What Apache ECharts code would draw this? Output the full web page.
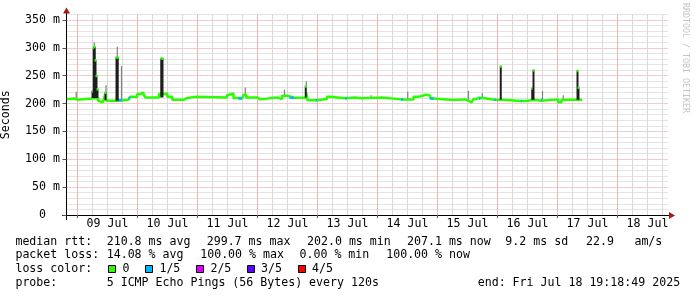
<!DOCTYPE html>
<html><head><meta charset="utf-8">
<script src="https://cdn.jsdelivr.net/npm/echarts@6/dist/echarts.min.js"></script>
<style>html,body{margin:0;padding:0;background:#fff}#c{width:697px;height:297px}</style>
</head><body><div id="c"></div>
<script>
// ---- data (time in hours since 08 Jul 00:00, values in ms) ----
const dayLabels = ['09 Jul','10 Jul','11 Jul','12 Jul','13 Jul','14 Jul','15 Jul','16 Jul','17 Jul','18 Jul'];
const dayNoon = [36,60,84,108,132,156,180,204,228,252];
const yTickValues = [0,50,100,150,200,250,300,350];
const yTickLabels = ['0  ','50 m','100 m','150 m','200 m','250 m','300 m','350 m'];

const medianT = [19.7,21.1,21.9,22.7,24.0,29.7,32.3,32.7,34.0,34.6,35.0,35.6,40.3,41.9,44.3,45.1,47.9,49.1,50.4,51.2,
  56.6,58.3,59.9,61.9,66.6,67.9,71.1,83.8,84.6,86.4,88.3,89.8,90.6,91.5,95.8,97.1,103.8,105.8,108.0,108.8,
  110.6,115.5,116.0,119.4,119.8,123.8,125.1,131.1,131.8,135.0,137.6,145.8,153.4,154.2,158.4,160.4,162.0,163.5,165.1,166.4,
  174.4,179.1,180.4,181.6,182.4,183.5,184.6,185.2,186.3,190.8,191.3,193.9,201.3,201.8,203.5,207.0,209.4,209.9,216.3,217.6,
  224.6,225.9];
const medianV = [208,205,209,207,209,210,205,202,203,208,216,205,206,207,210,212,217,220,216,211,
  217,218,212,207,210,212,211,215,218,210,209,212,216,211,207.5,211,208,214,210.5,210.5,
  211,220,206,206,208,212,209.5,209.5,211,209.5,211,207.5,207.5,207.5,212,214,216,214,209,206.5,
  207.5,205,202,204,208,210.5,209,210,207,207,207,204.5,204.5,204.5,207,205,207,207.5,202.5,207,
  207,207];
const medianLoss = [0,0,0,0,0,0,0,0,0,0,0,0,1,0,1,0,0,0,0,0,
  0,0,0,0,0,0,0,0,0,0,1,0,0,0,0,0,0,0,0,1,
  0,0,0,1,0,0,0,1,0,0,0,0,1,0,0,0,0,0,1,0,
  0,0,0,0,0,0,1,0,0,1,0,0,1,0,0,0,1,0,0,0,
  0,0];

const spikeT    = [30.0,30.5,30.9,31.2,31.6,32.0,35.2,39.6,40.1,57.5,58.0,115.3,193.3,205.9,206.4,224.0,224.4];
const spikeBase = [210,210,210,210,210,210,206,205,205,211,211,211,207,207,207,207,207];
const spikeTop  = [222,300,302,278,250,226,220,283,283,281,281,231,267,227,260,259,229];

const smokeT    = [23.5,30.7,35.4,39.9,41.6,91.1,106.8,115.5,141.4,156.1,180.4,185.9,210.0,218.3];
const smokeLow  = [209,290,212,283,207,214,213,231,211,208,205,210,207,207];
const smokeHigh = [221,310,233,302,267,229,225,240,215,221,223,219,222.6,215];

const lossColors = ['#26ff00','#00b8ff','#dd00ff','#5e00ff','#ff0000'];
const lossLabels = ['0','1/5','2/5','3/5','4/5'];

const legendRtt  = ['210.8 ms avg','299.7 ms max','202.0 ms min','207.1 ms now','9.2 ms sd','22.9','am/s'];
const legendLoss = ['14.08 % avg','100.00 % max','0.00 % min','100.00 % now'];
const probeText = '5 ICMP Echo Pings (56 Bytes) every 120s';
const endText = 'end: Fri Jul 18 19:18:49 2025';

// ---- build ----
const FONT = '11.6px "DejaVu Sans Mono", monospace';
const X_MIN = 19.6, X_MAX = 260.4, Y_MAX = 360;
const vGrid = [];
for (let t = 24; t < X_MAX; t += 6) vGrid.push([t, 0]);
const midnights = vGrid.map(d => d[0]).filter(t => t % 24 === 0);

const medianData = medianT.map((t, i) => [t, medianV[i]]);
const blueData = [];
medianT.forEach((t, i) => {
  if (medianLoss[i] === 1 && i + 1 < medianT.length) {
    blueData.push([t, medianV[i]], [medianT[i + 1], medianV[i]], [null, null]);
  }
});
const spikeData = spikeT.map((t, i) => [t, spikeBase[i], spikeTop[i]]);
const smokeData = smokeT.map((t, i) => [t, smokeLow[i], smokeHigh[i]]);

function rangeRender(width, color, capColor) {
  return function (params, api) {
    const t = api.value(0), lo = api.value(1), hi = api.value(2);
    const a = api.coord([t, lo]), b = api.coord([t, hi]);
    const children = [{ type: 'rect', shape: { x: a[0] - width / 2, y: b[1], width: width, height: a[1] - b[1] }, style: { fill: color } }];
    if (capColor) children.push({ type: 'rect', shape: { x: a[0] - width / 2, y: b[1] - 1, width: width, height: 2.5 }, style: { fill: capColor } });
    return { type: 'group', children: children };
  };
}
function vGridRender(params, api) {
  const t = api.value(0);
  const major = Math.round(t) % 24 === 0;
  const a = api.coord([t, 0]), b = api.coord([t, Y_MAX]);
  const x = Math.round(a[0] - 0.5);
  return { type: 'rect', shape: { x: x, y: b[1], width: 1, height: a[1] - b[1] },
    style: { fill: major ? '#efb4b4' : '#d9d9d9' } };
}

// legend graphics
const graphics = [];
function txt(x, y, s, extra) {
  graphics.push(Object.assign({ type: 'text', x: x, y: y, silent: true,
    style: { text: s, font: FONT, fill: '#000', textAlign: 'left', textVerticalAlign: 'middle', verticalAlign: 'middle' } }, extra || {}));
}
const rttX = [106.7, 206.7, 307, 407, 505.3, 586, 634.4];
txt(15.4, 241.7, 'median rtt:');
legendRtt.forEach((s, i) => txt(rttX[i], 241.7, s));
const lossX = [106.7, 200.2, 299.5, 386.2];
txt(15.4, 255.3, 'packet loss:');
legendLoss.forEach((s, i) => txt(lossX[i], 255.3, s));
txt(15.4, 269.3, 'loss color:');
const boxX = [108.5, 145.5, 196.5, 247.5, 298.5];
const boxLabelX = [122.6, 159.4, 210.4, 261.1, 312.1];
lossColors.forEach((c, i) => {
  graphics.push({ type: 'rect', silent: true, shape: { x: boxX[i], y: 265.5, width: 7, height: 7 }, style: { fill: c, stroke: '#000', lineWidth: 1 } });
  txt(boxLabelX[i], 269.3, lossLabels[i]);
});
txt(15.4, 282.9, 'probe:');
txt(106.7, 282.9, probeText);
txt(477.7, 282.9, endText);
// watermark
graphics.push({ type: 'text', x: 685.5, y: 58, rotation: -Math.PI / 2, silent: true,
  style: { text: 'RRDTOOL / TOBI OETIKER', font: '8.3px "DejaVu Sans Mono", monospace', fill: '#c4c4c4', textAlign: 'center', textVerticalAlign: 'middle', verticalAlign: 'middle' } });
// axis extensions and arrows
graphics.push({ type: 'line', silent: true, shape: { x1: 62, y1: 215.5, x2: 670, y2: 215.5 }, style: { stroke: '#000', lineWidth: 1 } });
graphics.push({ type: 'line', silent: true, shape: { x1: 66.5, y1: 220, x2: 66.5, y2: 11 }, style: { stroke: '#000', lineWidth: 1 } });
graphics.push({ type: 'polygon', silent: true, shape: { points: [[669, 212], [675, 215.5], [669, 219]] }, style: { fill: '#a01c1c' } });
graphics.push({ type: 'polygon', silent: true, shape: { points: [[63, 13.5], [66.5, 7.5], [70, 13.5]] }, style: { fill: '#a01c1c' } });

const chart = echarts.init(document.getElementById('c'), null, { renderer: 'canvas' });
chart.setOption({
  animation: false,
  backgroundColor: '#ffffff',
  grid: { left: 66.5, top: 14.4, width: 602, height: 200.6, containLabel: false, outerBoundsMode: 'none' },
  xAxis: {
    type: 'value', min: X_MIN, max: X_MAX,
    axisLine: { show: true, lineStyle: { color: '#000', width: 1 } },
    axisTick: { show: true, customValues: midnights, length: 3, lineStyle: { color: '#555' } },
    axisLabel: { show: true, customValues: dayNoon, margin: 3, color: '#000', fontFamily: '"DejaVu Sans Mono", monospace', fontSize: 11.6,
      formatter: v => { const i = dayNoon.indexOf(Math.round(v)); return i >= 0 ? dayLabels[i] : ''; } },
    splitLine: { show: false }
  },
  yAxis: [{
    type: 'value', min: 0, max: Y_MAX, interval: 10,
    axisLine: { show: true, lineStyle: { color: '#000' } },
    axisTick: { show: false }, axisLabel: { show: false },
    splitLine: { show: true, lineStyle: { color: ['#e39a9a', '#c8c8c8', '#c8c8c8', '#c8c8c8', '#c8c8c8'], type: [1, 1], width: 1 } }
  }, {
    type: 'value', min: 0, max: Y_MAX, position: 'left',
    axisLine: { show: false },
    axisTick: { show: true, customValues: yTickValues, length: 4, lineStyle: { color: '#555' } },
    axisLabel: { show: true, customValues: yTickValues, margin: 6.5, color: '#000', fontFamily: '"DejaVu Sans Mono", monospace', fontSize: 11.6,
      formatter: v => { const i = yTickValues.indexOf(Math.round(v)); return i >= 0 ? yTickLabels[i] : ''; } },
    splitLine: { show: false },
    name: 'Seconds', nameLocation: 'middle', nameGap: 55, nameRotate: 90,
    nameTextStyle: { color: '#000', fontFamily: '"DejaVu Sans Mono", monospace', fontSize: 11.6 }
  }],
  series: [
    { type: 'custom', name: 'vgrid', z: 1, silent: true, renderItem: vGridRender,
      encode: { x: 0, y: 1 }, data: vGrid },
    { type: 'custom', name: 'smoke', z: 3, silent: true, renderItem: rangeRender(1.2, '#808080', null),
      encode: { x: 0, y: [1, 2] }, data: smokeData },
    { type: 'line', name: 'median', z: 4, step: 'end', symbol: 'none', silent: true,
      lineStyle: { color: lossColors[0], width: 2.5 }, data: medianData },
    { type: 'line', name: 'loss1', z: 5, symbol: 'none', silent: true, connectNulls: false,
      lineStyle: { color: lossColors[1], width: 2.5 }, data: blueData },
    { type: 'custom', name: 'spikes', z: 6, silent: true, renderItem: rangeRender(2, '#1e1e1e', lossColors[0]),
      encode: { x: 0, y: [1, 2] }, data: spikeData }
  ],
  graphic: graphics
});
</script></body></html>
